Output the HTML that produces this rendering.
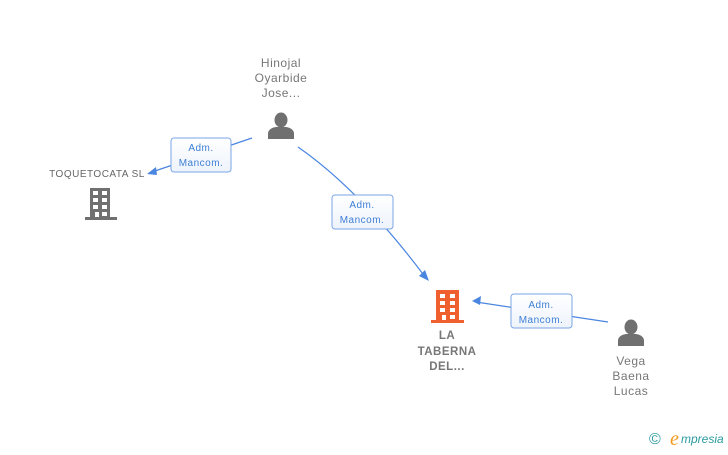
<!DOCTYPE html>
<html><head><style>
body{margin:0;background:#fff;width:728px;height:450px;overflow:hidden;font-family:"Liberation Sans",sans-serif;}
</style></head><body>
<svg width="728" height="450" xmlns="http://www.w3.org/2000/svg" font-family="Liberation Sans, sans-serif">
<defs>
<linearGradient id="g" x1="0" y1="0" x2="0" y2="1"><stop offset="0" stop-color="#fff"/><stop offset="1" stop-color="#eef3fb"/></linearGradient>
</defs>
<g stroke="#4a86e0" stroke-width="1.2" fill="none">
<line x1="252" y1="138" x2="152" y2="172"/>
<path d="M298 147 Q360 190 426 278"/>
<line x1="608" y1="322" x2="476" y2="302"/>
</g>
<g fill="#4a86e0">
<polygon points="147,174 156,167 157,175"/>
<polygon points="429,281 419,276 425,270"/>
<polygon points="472,301 481,296 480,305"/>
</g>
<g fill="url(#g)" stroke="#7aa6e6" stroke-width="1">
<rect x="171" y="138" width="60" height="34" rx="3"/>
<rect x="332" y="195" width="61" height="34" rx="3"/>
<rect x="511" y="294" width="61" height="34" rx="3"/>
</g>
<g fill="#3d7fd6" font-size="10" text-anchor="middle" letter-spacing="0.5">
<text x="201" y="151">Adm.</text><text x="201" y="166">Mancom.</text>
<text x="362" y="208">Adm.</text><text x="362" y="223">Mancom.</text>
<text x="541" y="308">Adm.</text><text x="541" y="323">Mancom.</text>
</g>
<g fill="#777" font-size="12" text-anchor="middle" letter-spacing="0.5">
<text x="281" y="67">Hinojal</text><text x="281" y="82">Oyarbide</text><text x="281" y="97">Jose...</text>
<text x="631" y="365">Vega</text><text x="631" y="380">Baena</text><text x="631" y="395">Lucas</text>
<text x="97" y="177" font-size="10" fill="#666">TOQUETOCATA SL</text>
<g font-weight="bold" fill="#777" font-size="11.5">
<text x="447" y="339">LA</text><text x="447" y="355">TABERNA</text><text x="447" y="370">DEL...</text>
</g>
</g>
<g fill="#707070">
<ellipse cx="281" cy="120" rx="6.5" ry="7.5"/>
<path d="M268 139 L268 133 Q269 128 276 127 L286 127 Q293 128 294 133 L294 139 Z"/>
<ellipse cx="631" cy="327" rx="6.5" ry="7.5"/>
<path d="M618 346 L618 340 Q619 335 626 334 L636 334 Q643 335 644 340 L644 346 Z"/>
</g>
<g>
<rect x="90" y="188" width="20" height="30" fill="#707070"/>
<rect x="85" y="217" width="32" height="3" fill="#707070"/>
<g fill="#fff">
<rect x="93" y="191" width="5" height="4"/><rect x="102" y="191" width="5" height="4"/>
<rect x="93" y="198" width="5" height="4"/><rect x="102" y="198" width="5" height="4"/>
<rect x="93" y="205" width="5" height="4"/><rect x="102" y="205" width="5" height="4"/>
<rect x="95" y="212" width="4" height="5"/><rect x="102" y="212" width="5" height="4"/>
</g>
</g>
<g>
<rect x="436" y="290" width="23" height="31" fill="#f0602f"/>
<rect x="431" y="320" width="33" height="3" fill="#f0602f"/>
<g fill="#fff">
<rect x="440" y="294" width="5" height="4"/><rect x="450" y="294" width="5" height="4"/>
<rect x="440" y="301" width="5" height="4"/><rect x="450" y="301" width="5" height="4"/>
<rect x="440" y="308" width="5" height="4"/><rect x="450" y="308" width="5" height="4"/>
<rect x="442" y="315" width="4" height="5"/><rect x="450" y="315" width="5" height="4"/>
</g>
</g>
<text x="649" y="444" font-size="16" fill="#2a9aa0">©</text>
<text x="670" y="445" font-size="20" fill="#f39a1e" font-style="italic" font-family="Liberation Serif, serif">e</text>
<text x="681" y="443" font-size="12" fill="#2a9aa0" font-style="italic">mpresia</text>
</svg>
</body></html>
